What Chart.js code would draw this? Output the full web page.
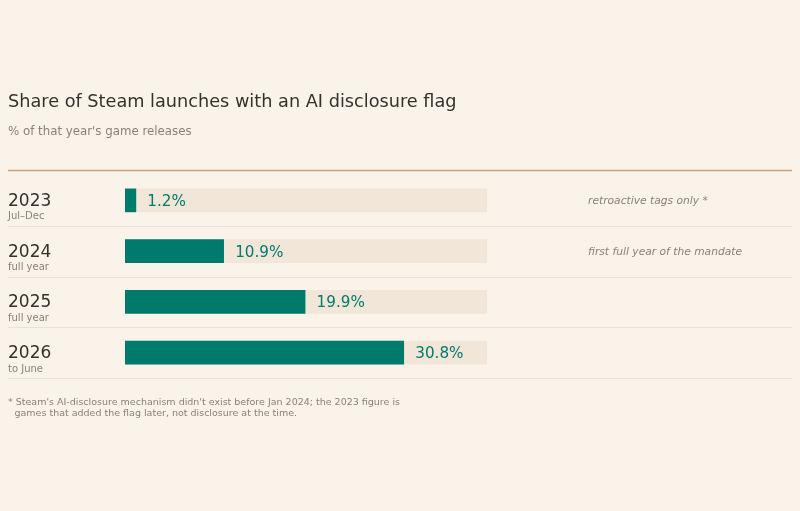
<!DOCTYPE html>
<html>
<head>
<meta charset="utf-8">
<script src="https://cdn.jsdelivr.net/npm/chart.js@4.4.1/dist/chart.umd.min.js"></script>
<style>
  html, body { margin:0; padding:0; background:#faf3ea; }
  #wrap { position:relative; width:800px; height:511px; }
</style>
</head>
<body>
<div id="wrap"><canvas id="chart" width="800" height="511"></canvas></div>
<script>
const years = ["2023", "2024", "2025", "2026"];
const periods = ["Jul\u2013Dec", "full year", "full year", "to June"];
const shares = [1.2, 10.9, 19.9, 30.8];
const notes = ["retroactive tags only *", "first full year of the mandate", "", ""];
const scaleMax = 40;
const track = years.map(() => scaleMax);

const FONT = "'DejaVu Sans', sans-serif";
const TEAL = "#007a6a";
const MUTED = "#8c8177";

// text, rules and row separators drawn on the canvas
const decor = {
  id: "decor",
  beforeDatasetsDraw(chart){
    const ctx = chart.ctx, y = chart.scales.y;
    ctx.save();
    ctx.fillStyle = "#35312d";
    ctx.font = "17.7px " + FONT;
    ctx.textBaseline = "alphabetic";
    ctx.fillText("Share of Steam launches with an AI disclosure flag", 8, 107);
    ctx.fillStyle = MUTED;
    ctx.font = "11.8px " + FONT;
    ctx.fillText("% of that year's game releases", 8, 135);

    ctx.strokeStyle = "#c9a27c";
    ctx.lineWidth = 1.5;
    ctx.beginPath(); ctx.moveTo(8, 170.5); ctx.lineTo(792, 170.5); ctx.stroke();

    ctx.strokeStyle = "#ebe1d4";
    ctx.lineWidth = 1;
    const half = (y.getPixelForValue(1) - y.getPixelForValue(0)) / 2;
    years.forEach((yr, i) => {
      const ly = Math.round(y.getPixelForValue(i) + half) + 0.5;
      ctx.beginPath(); ctx.moveTo(8, ly); ctx.lineTo(792, ly); ctx.stroke();
    });
    ctx.restore();
  },
  afterDatasetsDraw(chart){
    const ctx = chart.ctx, x = chart.scales.x, y = chart.scales.y;
    ctx.save();
    ctx.textBaseline = "alphabetic";
    years.forEach((yr, i) => {
      const cy = y.getPixelForValue(i);
      ctx.fillStyle = "#35312d";
      ctx.font = "17px " + FONT;
      ctx.fillText(yr, 8, cy + 5.5);
      ctx.fillStyle = MUTED;
      ctx.font = "10px " + FONT;
      ctx.fillText(periods[i], 8, cy + 19);

      ctx.fillStyle = TEAL;
      ctx.font = "15.2px " + FONT;
      ctx.fillText(shares[i].toFixed(1) + "%", x.getPixelForValue(shares[i]) + 11.5, cy + 5.5);

      if (notes[i]) {
        ctx.fillStyle = MUTED;
        ctx.font = "italic 10.7px " + FONT;
        ctx.fillText(notes[i], 588, cy + 4);
      }
    });
    ctx.fillStyle = MUTED;
    ctx.font = "9.5px " + FONT;
    ctx.fillText("* Steam's AI-disclosure mechanism didn't exist before Jan 2024; the 2023 figure is", 8, 405);
    ctx.fillText("games that added the flag later, not disclosure at the time.", 14.5, 416);
    ctx.restore();
  }
};

new Chart(document.getElementById("chart"), {
  type: "bar",
  data: {
    labels: years,
    datasets: [
      { label: "Share", data: shares, backgroundColor: TEAL, barThickness: 23, grouped: false, order: 0 },
      { label: "Track", data: track, backgroundColor: "#f1e6d8", barThickness: 23, grouped: false, order: 1 }
    ]
  },
  options: {
    indexAxis: "y",
    responsive: false,
    animation: false,
    layout: { padding: { left: 125, right: 313, top: 175, bottom: 133 } },
    scales: {
      x: { display: false, min: 0, max: scaleMax },
      y: { display: false }
    },
    plugins: { legend: { display: false }, tooltip: { enabled: false } }
  },
  plugins: [decor]
});
</script>
</body>
</html>
